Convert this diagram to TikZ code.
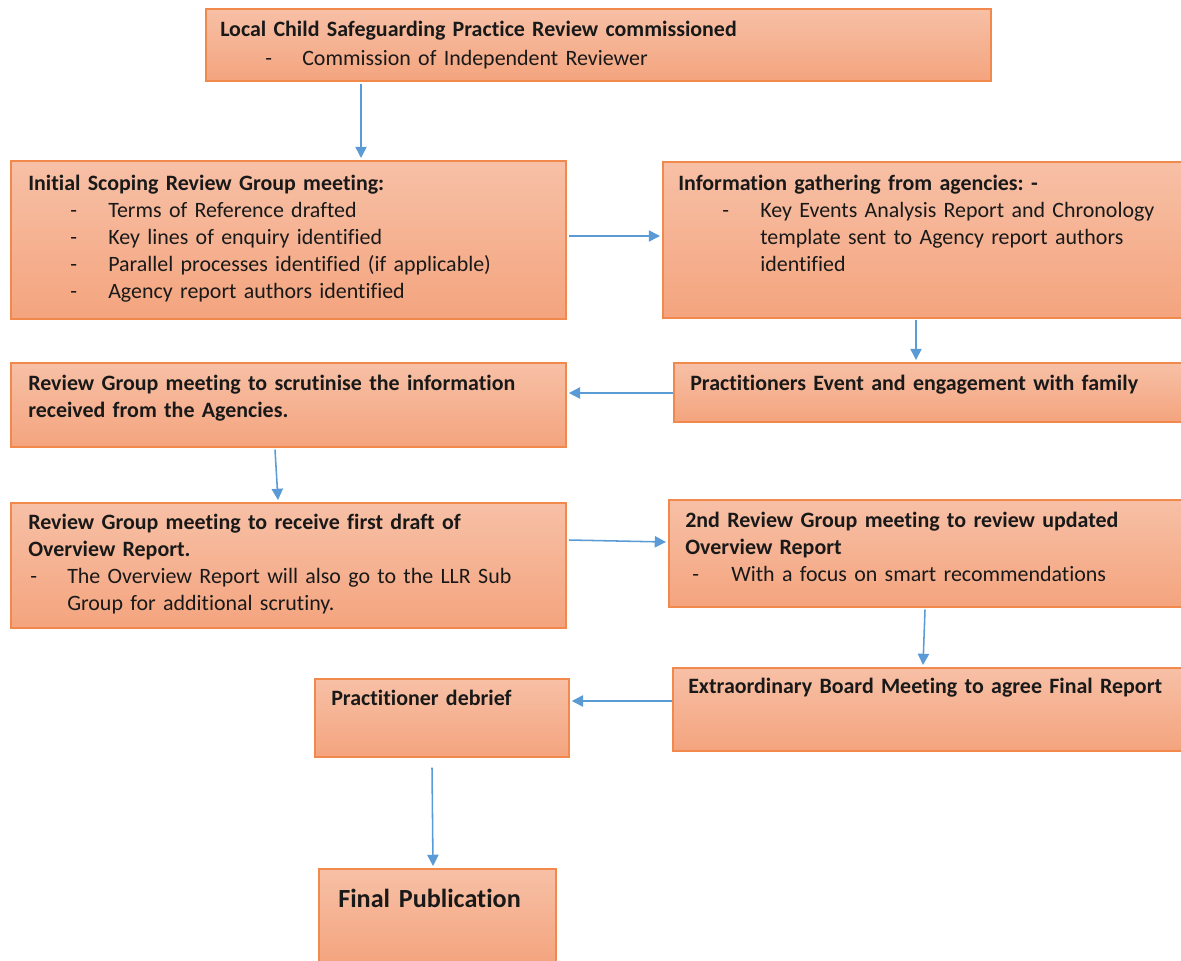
\documentclass[tikz,border=0pt]{standalone}
\usepackage{fontspec}
\setmainfont{Carlito}[Ligatures=NoCommon]
\usetikzlibrary{arrows.meta,calc}
\definecolor{boxtop}{RGB}{247,192,166}
\definecolor{boxbot}{RGB}{244,164,126}
\definecolor{boxedge}{RGB}{240,137,75}
\definecolor{flowblue}{RGB}{91,155,213}
\definecolor{ink}{RGB}{25,25,25}
\newdimen\px \px=0.7113pt
\newcommand{\li}[2]{\hspace*{#1}\makebox[#2][l]{-}}
\frenchspacing
\tikzset{
    stage/.style={
        rectangle,
        draw=boxedge,
        line width=1.2pt,
        top color=boxtop,
        bottom color=boxbot,
        anchor=north west,
        inner sep=0pt
    },
    stagetext/.style={
        anchor=base west,
        inner sep=0pt,
        align=left,
        text width=14cm,
        text=ink,
        font=\fontsize{15.6}{19.2}\selectfont,
        execute at begin node=\setlength{\parindent}{0pt}
    },
    flow/.style={
        -{Triangle[width=8pt,length=8pt]},
        draw=flowblue,
        line width=1.1pt
    }
}
\begin{document}
\begin{tikzpicture}[x=0.025cm, y=-0.025cm]
\useasboundingbox (0,0) rectangle (1181,960);

% Boxes
\node[stage, minimum width=19.625cm, minimum height=1.8cm] (top) at (205,8) {};
\node[stage, minimum width=13.875cm, minimum height=3.95cm] (scope) at (10,160) {};
\node[stage, minimum width=13.05cm, minimum height=3.9cm] (info) at (662,161) {};
\node[stage, minimum width=12.775cm, minimum height=1.475cm] (event) at (673,362) {};
\node[stage, minimum width=13.875cm, minimum height=2.1cm] (scrut) at (10,362) {};
\node[stage, minimum width=13.875cm, minimum height=3.125cm] (draft) at (10,502) {};
\node[stage, minimum width=12.9cm, minimum height=2.675cm] (second) at (668,499) {};
\node[stage, minimum width=12.8cm, minimum height=2.075cm] (board) at (672,667) {};
\node[stage, minimum width=6.35cm, minimum height=1.95cm] (debrief) at (314,678) {};
\node[stage, minimum width=5.925cm, minimum height=2.4cm] (final) at (318,868) {};

% Texts
\node[stagetext, text width=19cm] (topT) at (220,36) {\textbf{Local Child Safeguarding Practice Review commissioned}\\[1.5pt]
    \li{45\px}{37\px}Commission of Independent Reviewer};
\node[stagetext] (scopeT) at (28,190) {\textbf{Initial Scoping Review Group meeting:}\\
    \li{42\px}{38\px}Terms of Reference drafted\\
    \li{42\px}{38\px}Key lines of enquiry identified\\
    \li{42\px}{38\px}Parallel processes identified (if applicable)\\
    \li{42\px}{38\px}Agency report authors identified};
\node[stagetext, text width=13cm] (infoT) at (678,190) {\textbf{Information gathering from agencies: -}\\
    \li{44\px}{38\px}Key Events Analysis Report and Chronology\\
    \hspace*{82\px}template sent to Agency report authors\\
    \hspace*{82\px}identified};
\node[stagetext, text width=13cm] (eventT) at (690,390) {\textbf{Practitioners Event and engagement with family}};
\node[stagetext] (scrutT) at (28,390) {\textbf{Review Group meeting to scrutinise the information}\\
    \textbf{received from the Agencies.}};
\node[stagetext] (draftT) at (28,529) {\textbf{Review Group meeting to receive first draft of}\\
    \textbf{Overview Report.}\\
    \li{2\px}{37\px}The Overview Report will also go to the LLR Sub\\
    \hspace*{39\px}Group for additional scrutiny.};
\node[stagetext, text width=13cm] (secondT) at (685,527) {\textbf{2nd Review Group meeting to review updated}\\
    \textbf{Overview Report}\\
    \li{7\px}{39\px}With a focus on smart recommendations};
\node[stagetext, text width=13cm] (boardT) at (688,693) {\textbf{Extraordinary Board Meeting to agree Final Report}};
\node[stagetext, text width=6cm] (debriefT) at (331,705) {\textbf{Practitioner debrief}};
\node[stagetext, text width=5.8cm, font=\fontsize{18.6}{22}\selectfont] (finalT) at (338,907) {\textbf{Final Publication}};

% Connectors
\draw[flow] ($(top.south west)+(156,2)$) -- ($(scope.north west)+(351,-2)$);
\draw[flow] ($(scope.north east)+(2,76)$) -- ($(info.north west)+(-2,75)$);
\draw[flow] ($(info.south west)+(254,1)$) -- ($(event.north west)+(243,-2)$);
\draw[flow] ($(event.north west)+(0,31)$) -- ($(scrut.north east)+(2,31)$);
\draw[flow] ($(scrut.south west)+(265,2)$) -- ($(draft.north west)+(268,-2)$);
\draw[flow] ($(draft.north east)+(2,38)$) -- ($(second.north west)+(-2,43)$);
\draw[flow] ($(second.south west)+(257,2)$) -- ($(board.north west)+(251,-2)$);
\draw[flow] ($(board.north west)+(0,34)$) -- ($(debrief.north east)+(2,23)$);
\draw[flow] ($(debrief.south west)+(118,10)$) -- ($(final.north west)+(115,-2)$);

\end{tikzpicture}
\end{document}
